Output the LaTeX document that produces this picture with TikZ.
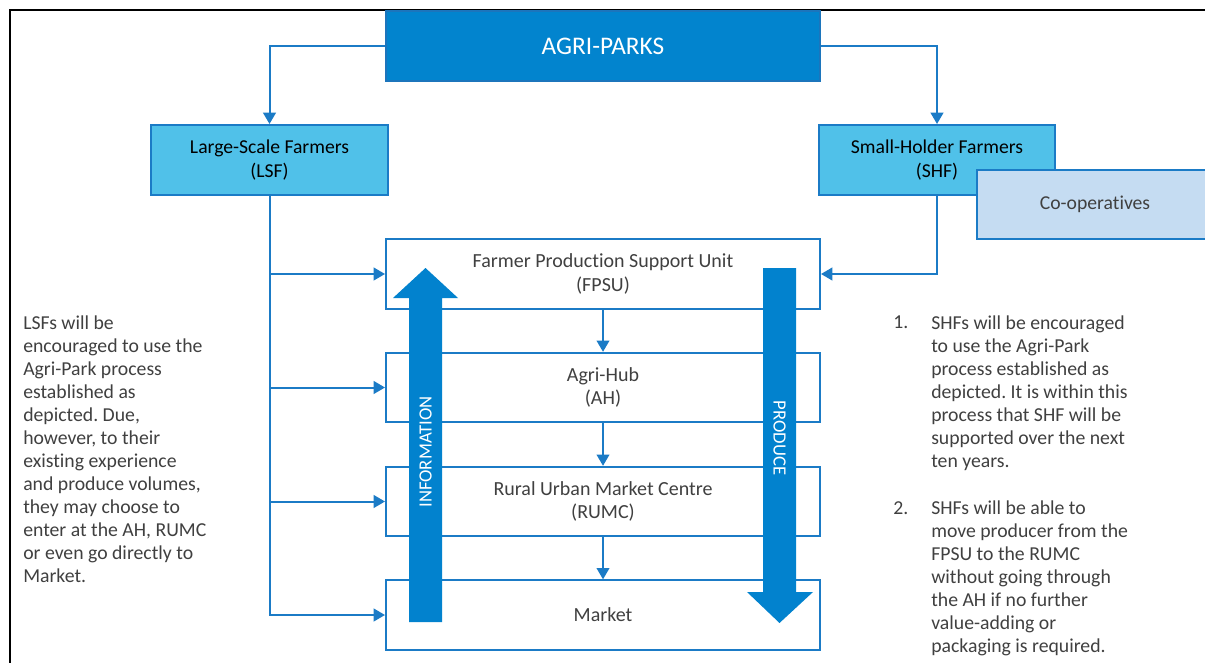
\documentclass[tikz,border=0pt]{standalone}
\usepackage{fontspec}
\setmainfont{Carlito}[Ligatures={NoCommon}]
\usetikzlibrary{arrows.meta}
\frenchspacing
\definecolor{txtgray}{HTML}{404040}
\definecolor{apblue}{HTML}{0284CE}
\definecolor{apedge}{HTML}{1C75BC}
\definecolor{lsfill}{HTML}{50C1E9}
\definecolor{edgeblue}{HTML}{1B7BC6}
\definecolor{coopfill}{HTML}{C5DCF2}
\definecolor{bigarrow}{HTML}{0282CE}
\tikzset{
  basebox/.style={rectangle,line width=1.5pt,inner sep=0pt,align=center},
  apbox/.style={basebox,fill=apblue,draw=apedge,minimum width=325.5pt,minimum height=52.5pt,text=white,font=\fontsize{19}{22}\selectfont},
  farmbox/.style={basebox,fill=lsfill,draw=edgeblue,minimum width=177.5pt,minimum height=52.5pt,text=black,font=\fontsize{14.75}{17.5}\selectfont},
  coopbox/.style={basebox,fill=coopfill,draw=edgeblue,minimum width=177pt,minimum height=51.75pt,text=txtgray,font=\fontsize{14.75}{17.25}\selectfont},
  procbox/.style={basebox,fill=white,draw=edgeblue,minimum width=325.5pt,minimum height=52pt,text=txtgray,font=\fontsize{15}{17.5}\selectfont},
  sidetext/.style={inner sep=0pt,align=left,text=txtgray,font=\fontsize{14.8}{17.25}\selectfont},
  bigtext/.style={inner sep=0pt,text=white,font=\fontsize{14}{16}\selectfont},
  conn/.style={draw=edgeblue,line width=1.5pt,-{Triangle[length=8.5pt,width=9.5pt]}},
}
\begin{document}
\begin{tikzpicture}[x=0.75pt,y=-0.75pt]
\useasboundingbox (0,0) rectangle (1205,663);
\clip (0,0) rectangle (1205,663);
\fill[white] (0,0) rectangle (1205,663);
% frame
\draw[black,line width=1.5pt] (9.5,664) -- (9.5,10) -- (1206,10);

% top boxes
\node[apbox] (ap) at (603,46) {AGRI-PARKS};
\node[farmbox] (lsf) at (269.5,160) {Large-Scale Farmers\\(LSF)};
\node[farmbox] (shf) at (937,160) {Small-Holder Farmers\\(SHF)};
\node[coopbox] (coop) at (1095,204.5) {Co-operatives};

% process boxes
\node[procbox] (fpsu) at (603,274) {Farmer Production Support Unit\\(FPSU)};
\node[procbox] (ah) at (603,387.5) {Agri-Hub\\(AH)};
\node[procbox] (rumc) at (603,501.5) {Rural Urban Market Centre\\(RUMC)};
\node[procbox] (mkt) at (603,615) {Market};

% big arrows
\fill[bigarrow] (409,622) -- (409,298) -- (393,298) -- (425.5,268) -- (458,298) -- (442,298) -- (442,622) -- cycle;
\node[bigtext,rotate=90] (info) at (425.5,452) {INFORMATION};
\fill[bigarrow] (763,268) -- (796,268) -- (796,592) -- (813,592) -- (779.5,623) -- (747,592) -- (763,592) -- cycle;
\node[bigtext,rotate=-90] (prod) at (779.5,438) {PRODUCE};

% connectors
\draw[conn] (ap.west) -| (lsf.north);
\draw[conn] (ap.east) -| (shf.north);
\draw[conn] (lsf.south) |- (fpsu.west);
\draw[conn] (lsf.south) |- (ah.west);
\draw[conn] (lsf.south) |- (rumc.west);
\draw[conn] (lsf.south) |- (mkt.west);
\draw[conn] (shf.south) |- (fpsu.east);
\draw[conn] (fpsu.south) -- (ah.north);
\draw[conn] (ah.south) -- (rumc.north);
\draw[conn] (rumc.south) -- (mkt.north);

% side texts
\node[sidetext,anchor=north west] (ltext) at (23,316) {LSFs will be\\encouraged to use the\\Agri-Park process\\established as\\depicted. Due,\\however, to their\\existing experience\\and produce volumes,\\they may choose to\\enter at the AH, RUMC\\or even go directly to\\Market.};
\node[sidetext,anchor=north west] (n1) at (893,316) {1.};
\node[sidetext,anchor=north west] (p1) at (931,316) {SHFs will be encouraged\\to use the Agri-Park\\process established as\\depicted. It is within this\\process that SHF will be\\supported over the next\\ten years.};
\node[sidetext,anchor=north west] (n2) at (893,501) {2.};
\node[sidetext,anchor=north west] (p2) at (931,501) {SHFs will be able to\\move producer from the\\FPSU to the RUMC\\without going through\\the AH if no further\\value-adding or\\packaging is required.};
\end{tikzpicture}
\end{document}
